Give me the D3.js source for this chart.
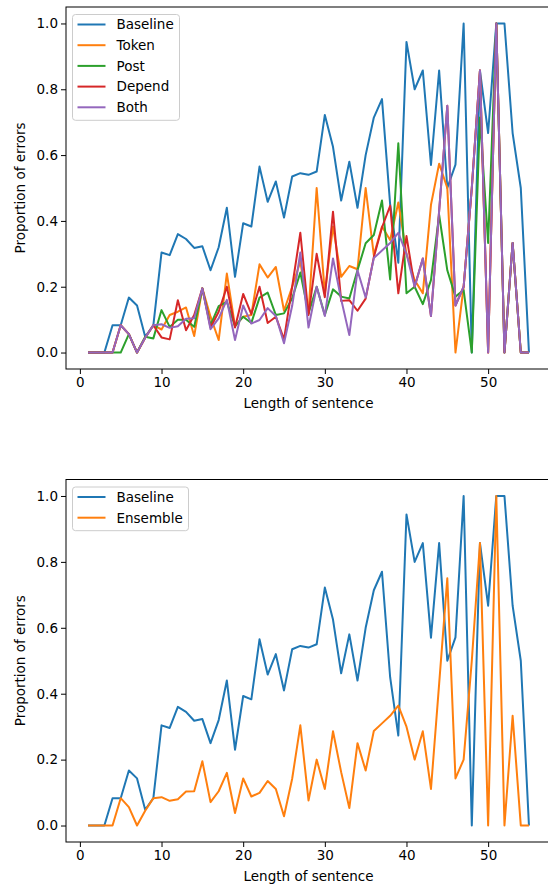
<!DOCTYPE html>
<html>
<head>
<meta charset="utf-8">
<script src="https://cdnjs.cloudflare.com/ajax/libs/d3/7.8.5/d3.min.js"></script>
<style>
body { margin: 0; background: #fff; }
text { font-family: "DejaVu Sans", sans-serif; }
</style>
</head>
<body>
<script>
var lengths = [1,2,3,4,5,6,7,8,9,10,11,12,13,14,15,16,17,18,19,20,21,22,23,24,25,26,27,28,29,30,
               31,32,33,34,35,36,37,38,39,40,41,42,43,44,45,46,47,48,49,50,51,52,53,54,55];

var baseline = [0,0,0,0.083,0.083,0.167,0.143,0.048,0.083,0.304,0.296,0.36,0.345,0.318,0.323,0.25,0.32,0.44,0.23,0.393,
                0.383,0.565,0.458,0.52,0.41,0.535,0.545,0.54,0.55,0.722,0.625,0.462,0.58,0.44,0.6,0.714,0.77,0.45,0.273,0.944,
                0.8,0.857,0.57,0.857,0.5,0.571,1,0,0.857,0.667,1,1,0.667,0.5,0];
var token    = [0,0,0,0,0.083,0.056,0,0.045,0.083,0.07,0.114,0.124,0.137,0.05,0.195,0.109,0.038,0.24,0.08,0.109,
                0.114,0.268,0.228,0.26,0.127,0.2,0.276,0.119,0.5,0.18,0.383,0.23,0.263,0.253,0.5,0.296,0.383,0.342,0.456,0.3,
                0.22,0.18,0.449,0.574,0.5,0,0.2,0.5,0.857,0,1,0,0.333,0,0];
var post     = [0,0,0,0,0,0.056,0,0.048,0.043,0.129,0.078,0.1,0.1,0.078,0.195,0.083,0.141,0.154,0.08,0.109,
                0.09,0.167,0.182,0.114,0.119,0.165,0.243,0.119,0.2,0.114,0.192,0.17,0.164,0.25,0.332,0.357,0.462,0.222,0.636,0.18,
                0.2,0.147,0.22,0.418,0.25,0.17,0.19,0,0.714,0.333,1,0,0.333,0,0];
var depend   = [0,0,0,0,0.083,0.056,0,0.045,0.083,0.046,0.04,0.159,0.068,0.114,0.195,0.076,0.124,0.2,0.076,0.178,
                0.117,0.2,0.09,0.109,0.04,0.2,0.364,0.114,0.3,0.168,0.428,0.157,0.159,0.127,0.164,0.29,0.38,0.446,0.18,0.354,
                0.2,0.286,0.111,0.43,0.75,0.143,0.2,0.5,0.857,0,1,0,0.333,0,0];
var both     = [0,0,0,0,0.083,0.056,0,0.045,0.083,0.086,0.075,0.08,0.103,0.104,0.195,0.071,0.104,0.16,0.038,0.143,
                0.088,0.099,0.135,0.111,0.028,0.142,0.304,0.076,0.2,0.111,0.286,0.162,0.053,0.25,0.167,0.287,0.31,0.333,0.364,0.3,
                0.2,0.286,0.111,0.43,0.75,0.143,0.2,0.5,0.857,0,1,0,0.333,0,0];
var ensemble = [0,0,0,0,0.083,0.056,0,0.045,0.083,0.086,0.075,0.08,0.103,0.104,0.195,0.071,0.104,0.16,0.038,0.143,
                0.088,0.099,0.135,0.111,0.028,0.142,0.304,0.076,0.2,0.111,0.286,0.162,0.053,0.25,0.167,0.287,0.31,0.333,0.364,0.3,
                0.2,0.286,0.111,0.43,0.75,0.143,0.2,0.5,0.857,0,1,0,0.333,0,0];

var xTicks = [0, 10, 20, 30, 40, 50];
var yTicks = [0, 0.2, 0.4, 0.6, 0.8, 1.0];

var svg = d3.select("body").append("svg").attr("width", 548).attr("height", 884);

function drawPanel(top, bottom, lines, legendW) {
  var x = d3.scaleLinear().domain([-1.7, 57.7]).range([66, 551]);
  var y = d3.scaleLinear().domain([-0.05, 1.05]).range([bottom, top]);
  var g = svg.append("g");

  var line = d3.line()
    .x(function(d, i){ return x(lengths[i]); })
    .y(function(d){ return y(d); });

  lines.forEach(function(s){
    g.append("path")
      .datum(s.values)
      .attr("fill", "none")
      .attr("stroke", s.color)
      .attr("stroke-width", 2)
      .attr("stroke-linejoin", "round")
      .attr("d", line);
  });

  var xa = g.append("g")
    .attr("transform", "translate(0," + bottom + ")")
    .call(d3.axisBottom(x).tickValues(xTicks).tickSize(5).tickPadding(3).tickFormat(d3.format("d")));
  var ya = g.append("g")
    .attr("transform", "translate(66,0)")
    .call(d3.axisLeft(y).tickValues(yTicks).tickSize(5).tickPadding(3).tickFormat(d3.format(".1f")));
  [xa, ya].forEach(function(a){
    a.select(".domain").remove();
    a.selectAll("text").attr("font-size", 13.5).attr("fill", "#000").style("font-family", "DejaVu Sans");
    a.selectAll("line").attr("stroke", "#000").attr("stroke-width", 1);
  });

  // spines
  g.append("rect")
    .attr("x", 66).attr("y", top)
    .attr("width", 485).attr("height", bottom - top)
    .attr("fill", "none").attr("stroke", "#000").attr("stroke-width", 1);

  g.append("text")
    .text("Length of sentence")
    .attr("x", 308.5).attr("y", bottom + 39)
    .attr("text-anchor", "middle").attr("font-size", 13.5);

  g.append("text")
    .text("Proportion of errors")
    .attr("transform", "translate(25," + (top + bottom) / 2 + ") rotate(-90)")
    .attr("text-anchor", "middle").attr("font-size", 13.5);

  // legend
  var ly = top + 7.5;
  g.append("rect")
    .attr("x", 72.5).attr("y", ly)
    .attr("width", legendW).attr("height", 23 + (lines.length - 1) * 20.7)
    .attr("rx", 3)
    .attr("fill", "#fff").attr("fill-opacity", 0.8)
    .attr("stroke", "#cccccc").attr("stroke-width", 1);

  var items = g.selectAll("g.leg")
    .data(lines)
    .enter().append("g")
      .attr("class", "leg")
      .attr("transform", function(d, i){ return "translate(0," + (ly + 10 + i * 20.7) + ")"; });
  items.append("line")
    .attr("x1", 77.5).attr("x2", 105.5)
    .attr("stroke", function(d){ return d.color; })
    .attr("stroke-width", 2);
  items.append("text")
    .text(function(d){ return d.name; })
    .attr("x", 116.5).attr("dy", "0.36em")
    .attr("font-size", 13.5).attr("fill", "#000");
}

drawPanel(7, 369, [
  {name: "Baseline", values: baseline, color: "#1f77b4"},
  {name: "Token", values: token, color: "#ff7f0e"},
  {name: "Post", values: post, color: "#2ca02c"},
  {name: "Depend", values: depend, color: "#d62728"},
  {name: "Both", values: both, color: "#9467bd"}
], 107);

drawPanel(479.5, 842, [
  {name: "Baseline", values: baseline, color: "#1f77b4"},
  {name: "Ensemble", values: ensemble, color: "#ff7f0e"}
], 116);
</script>
</body>
</html>
